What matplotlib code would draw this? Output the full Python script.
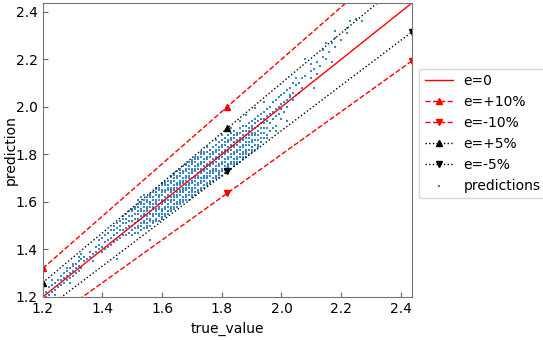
import numpy as np
import matplotlib
matplotlib.use("Agg")
import matplotlib.pyplot as plt

# true values (grid of 0.01) and the model predictions read for each of them
true_cols = [
    1.20, 1.21, 1.22, 1.23, 1.24, 1.25, 1.26, 1.27, 1.28, 1.29,
    1.30, 1.31, 1.32, 1.33, 1.34, 1.35, 1.36, 1.37, 1.38, 1.39,
    1.40, 1.41, 1.42, 1.43, 1.44, 1.45, 1.46, 1.47, 1.48, 1.49,
    1.50, 1.51, 1.52, 1.53, 1.54, 1.55, 1.56, 1.57, 1.58, 1.59,
    1.60, 1.61, 1.62, 1.63, 1.64, 1.65, 1.66, 1.67, 1.68, 1.69,
    1.70, 1.71, 1.72, 1.73, 1.74, 1.75, 1.76, 1.77, 1.78, 1.79,
    1.80, 1.81, 1.82, 1.83, 1.84, 1.85, 1.86, 1.87, 1.88, 1.89,
    1.90, 1.91, 1.92, 1.93, 1.94, 1.95, 1.96, 1.97, 1.98, 1.99,
    2.00, 2.01, 2.02, 2.03, 2.04, 2.05, 2.06, 2.07, 2.08, 2.10,
    2.11, 2.12, 2.13, 2.14, 2.15, 2.16, 2.17, 2.18, 2.20, 2.22,
    2.23, 2.25, 2.27, 2.31, 2.35,
]
pred_cols = [
    [1.21, 1.23], [1.20, 1.22], [1.24, 1.21], [1.22, 1.25, 1.27],
    [1.23, 1.26, 1.21], [1.24, 1.27], [1.27, 1.29, 1.25], [1.26, 1.30, 1.28],
    [1.27, 1.29, 1.31, 1.32], [1.28, 1.30, 1.32, 1.26],
    [1.29, 1.31, 1.33, 1.34], [1.30, 1.32, 1.34], [1.31, 1.33, 1.35, 1.37],
    [1.32, 1.36, 1.38], [1.35, 1.37], [1.36], [1.37, 1.39], [1.38, 1.35],
    [1.39, 1.41], [1.40, 1.42, 1.44],
    [1.41, 1.39, 1.45], [1.43, 1.46, 1.40], [1.44, 1.47, 1.41],
    [1.42, 1.45, 1.48], [1.46, 1.48, 1.50, 1.43], [1.47, 1.49, 1.51, 1.44, 1.36],
    [1.45, 1.48, 1.50, 1.52], [1.46, 1.48, 1.51, 1.53, 1.54],
    [1.46, 1.49, 1.51, 1.53, 1.55], [1.47, 1.50, 1.52, 1.54, 1.56],
    [1.46, 1.48, 1.50, 1.52, 1.54, 1.56, 1.57],
    [1.47, 1.49, 1.51, 1.53, 1.55, 1.57, 1.58],
    [1.47, 1.49, 1.50, 1.52, 1.53, 1.55, 1.56, 1.58, 1.59, 1.61],
    [1.48, 1.50, 1.51, 1.53, 1.54, 1.56, 1.57, 1.59, 1.60, 1.62],
    [1.49, 1.51, 1.52, 1.54, 1.55, 1.56, 1.58, 1.59, 1.61, 1.63],
    [1.50, 1.51, 1.53, 1.54, 1.56, 1.57, 1.58, 1.60, 1.61, 1.62],
    [1.44, 1.50, 1.52, 1.53, 1.55, 1.56, 1.58, 1.59, 1.60, 1.62, 1.63],
    [1.51, 1.52, 1.54, 1.55, 1.57, 1.58, 1.59, 1.61, 1.62, 1.64],
    [1.52, 1.53, 1.55, 1.56, 1.57, 1.59, 1.60, 1.61, 1.63, 1.64, 1.66],
    [1.52, 1.54, 1.55, 1.57, 1.58, 1.59, 1.61, 1.62, 1.63, 1.65, 1.66],
    [1.53, 1.55, 1.56, 1.57, 1.59, 1.60, 1.61, 1.63, 1.64, 1.65, 1.67, 1.68],
    [1.54, 1.55, 1.57, 1.58, 1.60, 1.61, 1.62, 1.64, 1.65, 1.67, 1.68],
    [1.55, 1.56, 1.58, 1.59, 1.61, 1.62, 1.63, 1.65, 1.66, 1.67, 1.69],
    [1.56, 1.57, 1.58, 1.60, 1.61, 1.62, 1.64, 1.65, 1.66, 1.68, 1.69, 1.71],
    [1.57, 1.58, 1.59, 1.61, 1.62, 1.63, 1.65, 1.66, 1.67, 1.69, 1.70, 1.72],
    [1.58, 1.59, 1.60, 1.62, 1.63, 1.64, 1.66, 1.67, 1.68, 1.70, 1.71, 1.73],
    [1.59, 1.60, 1.61, 1.63, 1.64, 1.65, 1.67, 1.68, 1.69, 1.71, 1.72, 1.74],
    [1.60, 1.61, 1.62, 1.64, 1.65, 1.66, 1.68, 1.69, 1.70, 1.72, 1.73, 1.75],
    [1.61, 1.62, 1.63, 1.65, 1.66, 1.67, 1.69, 1.70, 1.71, 1.73, 1.74, 1.76],
    [1.61, 1.63, 1.64, 1.66, 1.67, 1.68, 1.70, 1.71, 1.72, 1.74, 1.75, 1.77],
    [1.62, 1.64, 1.65, 1.66, 1.68, 1.69, 1.70, 1.72, 1.73, 1.74, 1.76, 1.77],
    [1.63, 1.64, 1.66, 1.67, 1.69, 1.70, 1.71, 1.73, 1.74, 1.75, 1.77, 1.78],
    [1.64, 1.65, 1.67, 1.68, 1.70, 1.71, 1.72, 1.74, 1.75, 1.76, 1.78, 1.79],
    [1.65, 1.66, 1.68, 1.69, 1.70, 1.72, 1.73, 1.74, 1.76, 1.77, 1.79, 1.80],
    [1.66, 1.67, 1.69, 1.70, 1.71, 1.73, 1.74, 1.75, 1.77, 1.78, 1.80, 1.81],
    [1.67, 1.68, 1.70, 1.71, 1.72, 1.74, 1.75, 1.76, 1.78, 1.79, 1.81],
    [1.68, 1.69, 1.71, 1.72, 1.73, 1.75, 1.76, 1.77, 1.79, 1.80, 1.82],
    [1.69, 1.70, 1.72, 1.73, 1.74, 1.76, 1.77, 1.78, 1.80, 1.81, 1.83],
    [1.70, 1.71, 1.73, 1.74, 1.75, 1.77, 1.78, 1.79, 1.81, 1.82, 1.84],
    [1.70, 1.72, 1.73, 1.75, 1.76, 1.78, 1.79, 1.80, 1.82, 1.83, 1.85],
    [1.71, 1.73, 1.74, 1.76, 1.77, 1.79, 1.80, 1.81, 1.83, 1.84, 1.86],
    [1.72, 1.74, 1.75, 1.77, 1.78, 1.80, 1.81, 1.82, 1.84, 1.85, 1.87],
    [1.73, 1.75, 1.76, 1.78, 1.79, 1.81, 1.82, 1.83, 1.85, 1.86, 1.88],
    [1.74, 1.76, 1.77, 1.79, 1.80, 1.82, 1.83, 1.84, 1.86, 1.87, 1.89],
    [1.75, 1.77, 1.78, 1.80, 1.81, 1.83, 1.84, 1.85, 1.87, 1.88, 1.90],
    [1.76, 1.78, 1.79, 1.81, 1.82, 1.84, 1.85, 1.86, 1.88, 1.89],
    [1.77, 1.79, 1.80, 1.82, 1.83, 1.85, 1.86, 1.87, 1.89, 1.91],
    [1.78, 1.80, 1.81, 1.83, 1.84, 1.86, 1.87, 1.88, 1.90, 1.92],
    [1.79, 1.81, 1.82, 1.84, 1.85, 1.87, 1.88, 1.90, 1.92],
    [1.80, 1.82, 1.84, 1.85, 1.87, 1.88, 1.90, 1.91, 1.93],
    [1.81, 1.83, 1.85, 1.86, 1.88, 1.89, 1.91, 1.92, 1.94],
    [1.82, 1.84, 1.86, 1.88, 1.89, 1.91, 1.93, 1.95],
    [1.83, 1.86, 1.88, 1.90, 1.92, 1.94, 1.96],
    [1.85, 1.87, 1.89, 1.91, 1.93, 1.95, 1.97],
    [1.87, 1.89, 1.91, 1.93, 1.95, 1.98],
    [1.88, 1.91, 1.94, 1.96, 1.99],
    [1.90, 1.93, 1.97, 2.00],
    [1.91, 1.95, 1.98, 2.02],
    [1.92, 1.96, 1.99, 2.03],
    [1.97, 2.00, 2.04],
    [1.95, 1.99, 2.01, 2.05],
    [1.98, 2.02, 2.06],
    [2.00, 2.03, 2.07],
    [2.04, 2.08, 2.05],
    [2.03, 2.06, 2.10],
    [2.05, 2.09, 2.12],
    [2.06, 2.10],
    [2.08, 2.12],
    [2.13, 2.20],
    [2.12, 2.15, 2.18],
    [2.08, 2.16],
    [2.14, 2.19],
    [2.17],
    [2.21, 2.24],
    [2.20, 2.27],
    [2.23],
    [2.19, 2.27],
    [2.29, 2.32, 2.25],
    [2.28],
    [2.31, 2.33],
    [2.36],
    [2.37],
    [2.36],
]

# points sitting out near the +/-5 % band edges
edge_true = [
    1.50, 1.52, 1.53, 1.55, 1.56, 1.58, 1.60, 1.61, 1.63, 1.64, 1.66, 1.68,
    1.70, 1.71, 1.73, 1.75, 1.78, 1.80, 1.83, 1.86, 1.88, 1.91, 1.94,
    1.55, 1.60, 1.63, 1.66, 1.68, 1.70, 1.72, 1.73, 1.75, 1.76, 1.78, 1.79,
    1.81, 1.82, 1.84, 1.85, 1.87, 1.88, 1.90, 1.92, 1.95, 1.98, 2.02,
]
edge_pred = [
    1.57, 1.59, 1.60, 1.62, 1.635, 1.655, 1.675, 1.685, 1.705, 1.715, 1.735,
    1.755, 1.775, 1.79, 1.81, 1.83, 1.86, 1.88, 1.91, 1.94, 1.965, 1.995, 2.02,
    1.49, 1.535, 1.565, 1.59, 1.61, 1.63, 1.65, 1.655, 1.675, 1.69, 1.705,
    1.715, 1.735, 1.745, 1.76, 1.77, 1.79, 1.80, 1.82, 1.84, 1.87, 1.90, 1.94,
]

true_value = np.concatenate([[x] * len(p) for x, p in zip(true_cols, pred_cols)]
                            + [edge_true])
prediction = np.concatenate(pred_cols + [edge_pred])

x_min, x_max = 1.2, 2.438
line_x = np.array([x_min, (x_min + x_max) / 2, x_max])

fig = plt.figure(figsize=(5.43, 3.40), dpi=100)
ax = fig.add_axes([0.0786, 0.1265, 0.6806, 0.8655])

sc = ax.scatter(true_value, prediction, s=3, c="#3a88c9", marker="s",
                linewidths=0, label="predictions")
l0, = ax.plot(line_x, line_x, "-", c="r", lw=1, label="e=0")
l1, = ax.plot(line_x, line_x * 1.1, "--", c="r", lw=1, marker="^", ms=4,
              label="e=+10%")
l2, = ax.plot(line_x, line_x * 0.9, "--", c="r", lw=1, marker="v", ms=4,
              label="e=-10%")
l3, = ax.plot(line_x, line_x * 1.05, ":", c="k", lw=1, marker="^", ms=4,
              label="e=+5%")
l4, = ax.plot(line_x, line_x * 0.95, ":", c="k", lw=1, marker="v", ms=4,
              label="e=-5%")

ax.set_xlim(x_min, x_max)
ax.set_ylim(x_min, x_max)
ax.set_xticks([1.2, 1.4, 1.6, 1.8, 2.0, 2.2, 2.4])
ax.set_yticks([1.2, 1.4, 1.6, 1.8, 2.0, 2.2, 2.4])
ax.tick_params(direction="in", labelsize=10, color="0.4")
for sp in ax.spines.values():
    sp.set_color("0.45")
ax.set_xlabel("true_value", fontsize=10)
ax.set_ylabel("prediction", fontsize=10)
ax.yaxis.set_label_coords(-0.067, 0.5)
ax.legend(handles=[l0, l1, l2, l3, l4, sc], loc="upper left",
          bbox_to_anchor=(1.0, 0.80), fontsize=10)

fig.savefig("out.png", dpi=100)
